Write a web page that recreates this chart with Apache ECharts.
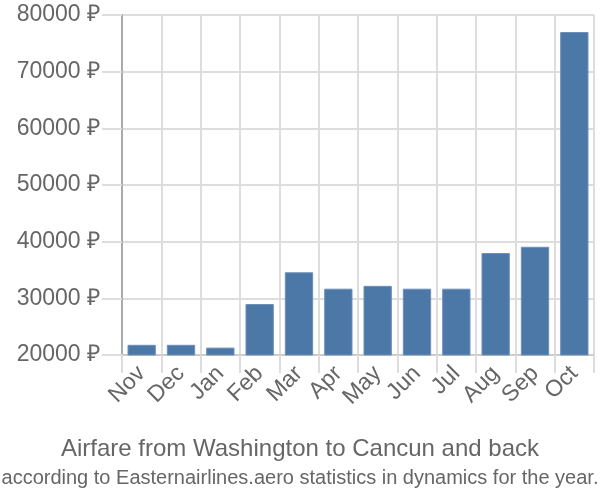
<!DOCTYPE html>
<html><head><meta charset="utf-8">
<script src="https://cdn.jsdelivr.net/npm/echarts@6/dist/echarts.min.js"></script>
<style>html,body{margin:0;padding:0;background:#fff}#c{width:600px;height:500px}</style>
</head><body><div id="c"></div>
<script>
const categories = ['Nov','Dec','Jan','Feb','Mar','Apr','May','Jun','Jul','Aug','Sep','Oct'];
const prices = [21800, 21800, 21300, 29000, 34600, 31700, 32200, 31700, 31700, 38000, 39100, 77000];
const titleText = 'Airfare from Washington to Cancun and back';
const subtitleText = 'according to Easternairlines.aero statistics in dynamics for the year.';

const chart = echarts.init(document.getElementById('c'), null, {renderer:'canvas'});
const font = '"Liberation Sans", Arial, sans-serif';
chart.setOption({
  animation: false,
  title: [
    {text: titleText, left: 'center', top: 432, textStyle: {fontFamily: font, fontSize: 24, fontWeight: 'normal', color: '#666'}},
    {text: subtitleText, left: 'center', top: 463, textStyle: {fontFamily: font, fontSize: 20, fontWeight: 'normal', color: '#666'}}
  ],
  grid: {left: 122, right: 6, top: 15, bottom: 145},
  xAxis: {
    type: 'category', data: categories, boundaryGap: true,
    axisLine: {show: true, lineStyle: {color: '#ccc', width: 2}},
    axisTick: {show: true, length: 18, interval: 0, lineStyle: {color: '#ddd', width: 2}},
    splitLine: {show: true, interval: 0, lineStyle: {color: '#ddd', width: 2}},
    axisLabel: {interval: 0, rotate: 45, fontFamily: font, fontSize: 23, color: '#666', margin: 15}
  },
  yAxis: {
    type: 'value', min: 20000, max: 80000, interval: 10000,
    axisLine: {show: true, lineStyle: {color: '#aaa', width: 2}},
    axisTick: {show: true, length: 20, lineStyle: {color: '#ddd', width: 2}},
    splitLine: {show: true, lineStyle: {color: '#ddd', width: 2}},
    axisLabel: {formatter: v => v + ' ₽', fontFamily: font, fontSize: 23, color: '#666', margin: 22}
  },
  series: [{
    type: 'bar', data: prices, barCategoryGap: '28%',
    itemStyle: {color: '#4c78a8', borderColor: '#6d8fb8', borderWidth: 1}
  }]
});
</script></body></html>
